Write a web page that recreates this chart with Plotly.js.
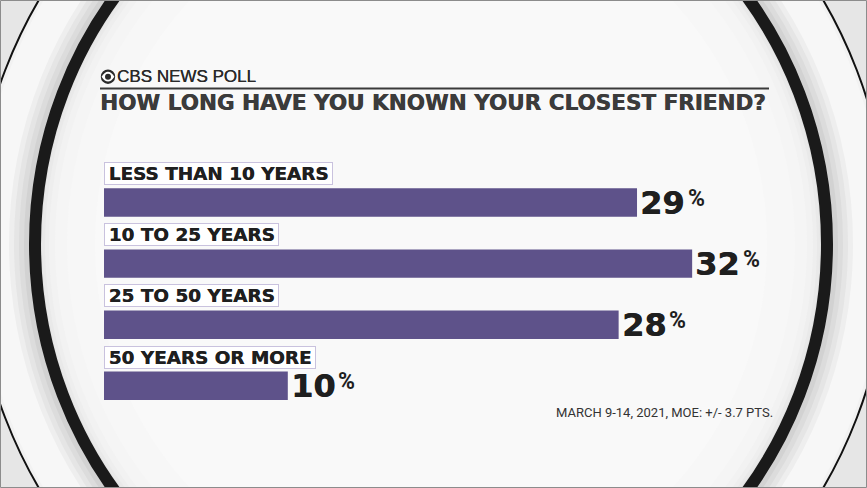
<!DOCTYPE html>
<html>
<head>
<meta charset="utf-8">
<script src="https://cdn.plot.ly/plotly-3.0.1.min.js"></script>
<style>
  html, body { margin: 0; padding: 0; background: #e8e8e8; }
  #chart { width: 867px; height: 488px; }
</style>
</head>
<body>
<div id="chart"></div>
<script>
// ---- data ----
const categories = ['LESS THAN 10 YEARS', '10 TO 25 YEARS', '25 TO 50 YEARS', '50 YEARS OR MORE'];
const values = [29, 32, 28, 10];
const valueSuffix = '%';
const brandText = 'CBS NEWS POLL';
const titleText = 'HOW LONG HAVE YOU KNOWN YOUR CLOSEST FRIEND?';
const sourceText = 'MARCH 9-14, 2021, MOE: +/- 3.7 PTS.';

// ---- layout geometry ----
const W = 867, H = 488;
const M = { l: 104, r: 67, t: 150, b: 78 };
const plotW = W - M.l - M.r, plotH = H - M.t - M.b;
const px2x = p => (p - M.l) / plotW;
const px2y = p => (H - M.b - p) / plotH;
const xMax = plotW / 18.38;
const rowPx = 61.1, firstRowPx = 202.5;
const yTop = -(firstRowPx - M.t) / rowPx;
const yBot = (categories.length - 1) + ((H - M.b) - (firstRowPx + rowPx * (categories.length - 1))) / rowPx;

const BAR = '#5e528a';
const DARK = '#1f1f1f';

// measure text width for % placement
const cv = document.createElement('canvas').getContext('2d');
function textW(txt, font) { cv.font = font; return cv.measureText(txt).width; }

const numFont = { family: 'DejaVu Sans', size: 32, color: DARK, weight: 700,
                  shadow: '0.6px 0 0 #1f1f1f' };
const pctFont = { family: 'Roboto', size: 23, color: DARK, weight: 700 };
const labFont = { family: 'DejaVu Sans', size: 18.4, color: DARK, weight: 700,
                  shadow: '0.4px 0 0 #1f1f1f' };

const annotations = [];
categories.forEach((c, i) => {
  annotations.push({
    xref: 'paper', yref: 'y', x: 0, y: c, xanchor: 'left', yanchor: 'bottom',
    yshift: 17.3, text: '\u2009' + c + '\u2009', showarrow: false,
    font: labFont, bgcolor: '#ffffff', bordercolor: '#c9c2de', borderwidth: 1, borderpad: 0
  });
  const num = String(values[i]);
  annotations.push({
    xref: 'x', yref: 'y', x: values[i], y: c, xanchor: 'left', yanchor: 'middle',
    xshift: 2, yshift: 0, text: num, showarrow: false, font: numFont, borderpad: 0
  });
  const nw = textW(num, 'bold 32px "DejaVu Sans"');
  annotations.push({
    xref: 'x', yref: 'y', x: values[i], y: c, xanchor: 'left', yanchor: 'middle',
    xshift: 2 + nw + 3, yshift: 4.5, text: valueSuffix, showarrow: false, font: pctFont, borderpad: 0
  });
});

annotations.push({
  xref: 'paper', yref: 'paper', x: px2x(116), y: px2y(76.7), xanchor: 'left', yanchor: 'middle',
  text: brandText, showarrow: false, borderpad: 0,
  font: { family: 'Liberation Sans', size: 17, color: '#2a2a2a', shadow: '0.3px 0 0 #2a2a2a' }
});
annotations.push({
  xref: 'paper', yref: 'paper', x: px2x(99), y: px2y(102), xanchor: 'left', yanchor: 'middle',
  text: titleText, showarrow: false, borderpad: 0,
  font: { family: 'DejaVu Sans', size: 21.5, color: '#3b3b3b', weight: 700,
          shadow: '0.6px 0 0 #3b3b3b' }
});
annotations.push({
  xref: 'paper', yref: 'paper', x: px2x(555), y: px2y(412), xanchor: 'left', yanchor: 'middle',
  text: sourceText, showarrow: false, borderpad: 0,
  font: { family: 'Roboto', size: 13, color: '#333333' }
});

// ---- background decoration (concentric ellipses) ----
const CX = 431, CY = 244, RX = 396, RY = 410;
function ell(dr, fill, lc, lw) {
  const rx = RX + dr, ry = RY + dr;
  return {
    type: 'circle', xref: 'paper', yref: 'paper', layer: 'below',
    x0: px2x(CX - rx), x1: px2x(CX + rx), y0: px2y(CY + ry), y1: px2y(CY - ry),
    fillcolor: fill, line: { color: lc || 'rgba(0,0,0,0)', width: lw || 0 }
  };
}
const shapes = [
  ell(62, '#f2f2f2', '#111111', 2),
  ell(58, '#f7f7f7'),
  ell(26, '#eeeeee'),
  ell(21, '#e5e5e5'),
  ell(16, '#dcdcdc'),
  ell(11, '#d2d2d2'),
  ell(0, '#e4e4e4', '#1a1a1a', 12),
  ell(-7, '#e9e9e9'),
  ell(-10, '#eeeeee'),
  ell(-14, '#f2f2f2'),
  ell(-20, '#f5f5f5'),
  ell(-32, '#f7f7f7'),
  ell(-60, '#f9f9f9'),
  // rule under brand
  { type: 'line', xref: 'paper', yref: 'paper', layer: 'below',
    x0: px2x(100), x1: px2x(769), y0: px2y(88.5), y1: px2y(88.5),
    line: { color: '#3a3a3a', width: 1.8 } },
  // CBS eye
  { type: 'circle', xref: 'paper', yref: 'paper', layer: 'above',
    x0: px2x(100.8), x1: px2x(115.2), y0: px2y(83.9), y1: px2y(69.5),
    fillcolor: '#2a2a2a', line: { width: 0 } },
  { type: 'path', xref: 'paper', yref: 'paper', layer: 'above',
    path: 'M ' + px2x(101.6) + ' ' + px2y(76.7) +
          ' Q ' + px2x(108) + ' ' + px2y(66.9) + ' ' + px2x(114.4) + ' ' + px2y(76.7) +
          ' Q ' + px2x(108) + ' ' + px2y(86.5) + ' ' + px2x(101.6) + ' ' + px2y(76.7) + ' Z',
    fillcolor: '#ffffff', line: { width: 0 } },
  { type: 'circle', xref: 'paper', yref: 'paper', layer: 'above',
    x0: px2x(105), x1: px2x(111), y0: px2y(79.7), y1: px2y(73.7),
    fillcolor: '#2a2a2a', line: { width: 0 } },
  // frame
  { type: 'rect', xref: 'paper', yref: 'paper', layer: 'above',
    x0: px2x(0.5), x1: px2x(W - 0.5), y0: px2y(H - 0.5), y1: px2y(0.5),
    line: { color: '#8c8c8c', width: 1 }, fillcolor: 'rgba(0,0,0,0)' }
];

const trace = {
  type: 'bar', orientation: 'h', x: values, y: categories,
  width: 0.465, marker: { color: BAR, line: { width: 0 } },
  hoverinfo: 'skip', showlegend: false
};

const layout = {
  width: W, height: H, margin: M,
  paper_bgcolor: '#e6e6e6', plot_bgcolor: 'rgba(0,0,0,0)',
  xaxis: { range: [0, xMax], visible: false, fixedrange: true },
  yaxis: { type: 'category', categoryarray: categories, range: [yBot, yTop],
           visible: false, fixedrange: true },
  annotations: annotations, shapes: shapes, showlegend: false
};

Plotly.newPlot('chart', [trace], layout, { displayModeBar: false, staticPlot: true });
</script>
</body>
</html>
